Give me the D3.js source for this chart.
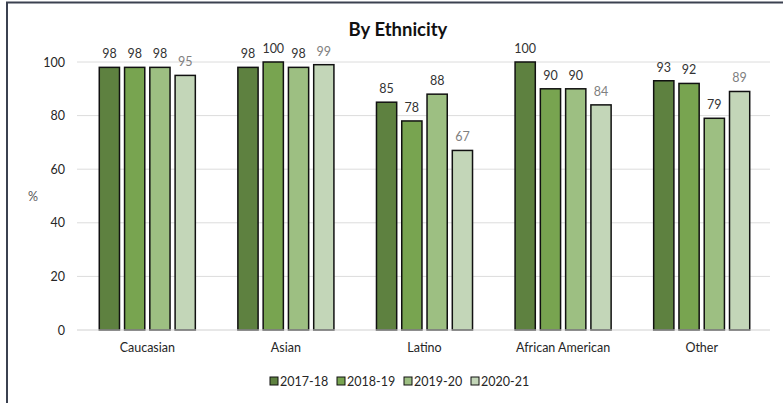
<!DOCTYPE html>
<html>
<head>
<meta charset="utf-8">
<script src="https://cdn.jsdelivr.net/npm/d3@7"></script>
<style>
  html, body { margin: 0; padding: 0; background: #fff; }
  svg { display: block; font-family: Lato, "Open Sans", sans-serif; }
</style>
</head>
<body>
<svg id="chart" width="783" height="403"></svg>
<script>
// Ethnic groups along the x axis
const categories = ["Caucasian", "Asian", "Latino", "African American", "Other"];
// School years (one bar per year in each group)
const years = ["2017-18", "2018-19", "2019-20", "2020-21"];
// Percentages per year, in category order
const values2017 = [98, 98, 85, 100, 93];
const values2018 = [98, 100, 78, 90, 92];
const values2019 = [98, 98, 88, 90, 79];
const values2020 = [95, 99, 67, 84, 89];
const yTicks = [0, 20, 40, 60, 80, 100];

const seriesValues = [values2017, values2018, values2019, values2020];
const colors = ["#5e8140", "#78a450", "#9dbf82", "#c3d6b8"];
const labelColors = ["#333333", "#333333", "#333333", "#808080"];

const svg = d3.select("#chart");

// Frame around the chart
svg.append("rect")
  .attr("x", 7).attr("y", 2.5)
  .attr("width", 800).attr("height", 420)
  .attr("fill", "none").attr("stroke", "#3b4150").attr("stroke-width", 2);

const plotLeft = 78, plotRight = 771, plotTop = 62, plotBottom = 330;

const x0 = d3.scaleBand().domain(categories).range([plotLeft, plotRight])
  .paddingInner(0.307).paddingOuter(0.1535);
const x1 = d3.scaleBand().domain(years).range([0, x0.bandwidth()])
  .paddingInner(0.2);
const y = d3.scaleLinear().domain([0, 100]).range([plotBottom, plotTop]);

// Horizontal gridlines
svg.append("g").selectAll("line").data(yTicks.filter(t => t > 0)).join("line")
  .attr("x1", plotLeft - 1).attr("x2", plotRight - 1)
  .attr("y1", d => y(d)).attr("y2", d => y(d))
  .attr("stroke", "#dcdcdc").attr("stroke-width", 1);

// Y axis tick labels
const yAxis = svg.append("g").attr("transform", `translate(${plotLeft - 11},0)`)
  .call(d3.axisLeft(y).tickValues(yTicks).tickSize(0).tickPadding(2));
yAxis.select(".domain").remove();
yAxis.selectAll("text")
  .attr("font-family", "Lato, 'Open Sans', sans-serif")
  .attr("font-size", 12.5).attr("fill", "#262626");

// Y axis title
svg.append("text").attr("x", 33).attr("y", 201)
  .attr("text-anchor", "middle").attr("font-size", 12.5).attr("fill", "#595959")
  .text("%");

// Bars
const groups = svg.append("g").selectAll("g").data(categories).join("g")
  .attr("transform", d => `translate(${x0(d)},0)`);

groups.selectAll("rect")
  .data((c, ci) => years.map((yr, si) => ({ yr, si, v: seriesValues[si][ci] })))
  .join("rect")
  .attr("x", d => x1(d.yr))
  .attr("y", d => y(d.v))
  .attr("width", x1.bandwidth())
  .attr("height", d => y(0) - y(d.v))
  .attr("fill", d => colors[d.si])
  .attr("stroke", "#111")
  .attr("stroke-width", 1.5);

// Value labels
groups.selectAll("text.val")
  .data((c, ci) => years.map((yr, si) => ({ yr, si, v: seriesValues[si][ci] })))
  .join("text")
  .attr("class", "val")
  .attr("x", d => x1(d.yr) + x1.bandwidth() / 2)
  .attr("y", d => y(d.v) - 9)
  .attr("text-anchor", "middle")
  .attr("font-size", 12.5)
  .attr("fill", d => labelColors[d.si])
  .text(d => d.v);

// Baseline
svg.append("line").attr("x1", plotLeft - 1).attr("x2", plotRight - 1)
  .attr("y1", y(0)).attr("y2", y(0))
  .attr("stroke", "#d0d0d0").attr("stroke-width", 1);

// Category labels
const xAxis = svg.append("g").attr("transform", `translate(0,${plotBottom})`)
  .call(d3.axisBottom(x0).tickSize(0).tickPadding(13));
xAxis.select(".domain").remove();
xAxis.selectAll("text")
  .attr("font-family", "Lato, 'Open Sans', sans-serif")
  .attr("font-size", 12.5).attr("fill", "#262626");

// Title
svg.append("text").attr("x", 398).attr("y", 36)
  .attr("text-anchor", "middle").attr("font-size", 18.5).attr("font-weight", "bold")
  .attr("fill", "#111").text("By Ethnicity");

// Legend
const legendX = [270, 337, 404, 471];
const legend = svg.append("g").selectAll("g").data(years).join("g")
  .attr("transform", (d, i) => `translate(${legendX[i]},381)`);
legend.append("rect").attr("x", 0).attr("y", -4).attr("width", 8).attr("height", 8)
  .attr("fill", (d, i) => colors[i]).attr("stroke", "#111").attr("stroke-width", 1);
legend.append("text").attr("x", 10).attr("y", 4.5)
  .attr("font-size", 12.5).attr("fill", "#262626").text(d => d);
</script>
</body>
</html>
